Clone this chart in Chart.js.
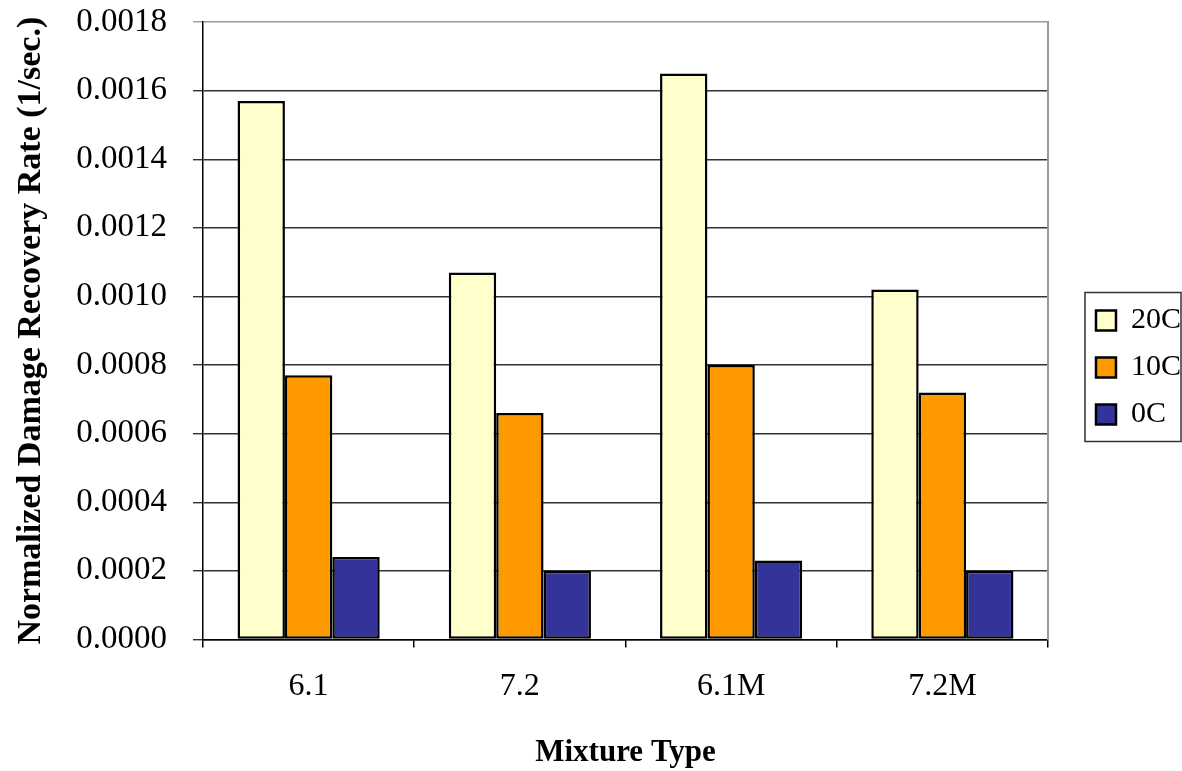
<!DOCTYPE html>
<html>
<head>
<meta charset="utf-8">
<script src="https://cdn.jsdelivr.net/npm/chart.js@4.4.1/dist/chart.umd.min.js"></script>
<style>
html, body { margin: 0; padding: 0; background: #ffffff; }
canvas { display: block; }
</style>
</head>
<body>
<canvas id="c" width="1182" height="771"></canvas>
<script>
const categories = ["6.1", "7.2", "6.1M", "7.2M"];
const seriesNames = ["20C", "10C", "0C"];
const values20C = [0.00157, 0.00107, 0.00165, 0.00102];
const values10C = [0.00077, 0.00066, 0.00080, 0.00072];
const values0C = [0.00024, 0.00020, 0.00023, 0.00020];
const yTicks = [0, 0.0002, 0.0004, 0.0006, 0.0008, 0.0010, 0.0012, 0.0014, 0.0016, 0.0018];
const xTitle = "Mixture Type";
const yTitle = "Normalized Damage Recovery Rate (1/sec.)";

const FONT = "'Liberation Serif', 'Times New Roman', serif";
const LEGEND_SHIFT_X = 9;
const LEGEND_SHIFT_Y = -18;

const legendPlacer = {
  id: 'legendPlacer',
  afterLayout(chart) {
    const lg = chart.legend;
    if (!lg) return;
    lg.left += LEGEND_SHIFT_X; lg.right += LEGEND_SHIFT_X;
    lg.top += LEGEND_SHIFT_Y; lg.bottom += LEGEND_SHIFT_Y;
  },
  afterDraw(chart) {
    const lg = chart.legend;
    if (!lg || !lg.columnSizes) return;
    const pad = lg.options.labels.padding;
    const colH = lg.columnSizes[0].height;
    const y0 = (lg.top + pad + lg.bottom - colH) / 2;
    const boxX = lg.left + pad;
    const ctx = chart.ctx;
    ctx.save();
    ctx.strokeStyle = '#333333';
    ctx.lineWidth = 1.5;
    ctx.strokeRect(boxX - 11, y0 - 13, chart.width - (boxX - 11) - 1, colH + 8);
    ctx.restore();
  }
};

new Chart(document.getElementById('c'), {
  type: 'bar',
  data: {
    labels: categories,
    datasets: [
      { label: seriesNames[0], data: values20C, backgroundColor: '#FFFFCC', borderColor: '#000000', borderWidth: 2.5, borderSkipped: false },
      { label: seriesNames[1], data: values10C, backgroundColor: '#FF9900', borderColor: '#000000', borderWidth: 2.5, borderSkipped: false },
      { label: seriesNames[2], data: values0C, backgroundColor: '#333399', borderColor: '#000000', borderWidth: 2.5, borderSkipped: false }
    ]
  },
  options: {
    responsive: false,
    animation: false,
    devicePixelRatio: 1,
    layout: { padding: { top: 0, left: 0, right: 0, bottom: 0 } },
    datasets: { bar: { categoryPercentage: 0.673, barPercentage: 1.0 } },
    plugins: {
      tooltip: { enabled: false },
      legend: {
        position: 'right',
        align: 'center',
        labels: {
          boxWidth: 20, boxHeight: 20, padding: 17,
          color: '#000000',
          font: { family: FONT, size: 30 }
        }
      }
    },
    scales: {
      x: {
        grid: { display: true, drawOnChartArea: false, drawTicks: true, tickLength: 8, color: '#000000', lineWidth: 1.5, offset: true },
        border: { display: true, color: '#000000', width: 1.5 },
        ticks: { color: '#000000', font: { family: FONT, size: 32 }, padding: 20 },
        title: { display: true, text: xTitle, color: '#000000', font: { family: FONT, size: 31, weight: 'bold' }, padding: { top: 9, bottom: -1 } }
      },
      y: {
        min: 0, max: 0.0018,
        afterBuildTicks(scale) { scale.ticks = yTicks.map(v => ({ value: v })); },
        afterFit(scale) { scale.width = 203; scale.paddingTop = 22; },
        grid: {
          display: true, drawOnChartArea: true, drawTicks: true, tickLength: 10,
          color: (c) => (c.index === yTicks.length - 1 ? '#9a9a9a' : '#333333'),
          lineWidth: 1.4
        },
        border: { display: true, color: '#000000', width: 1.5 },
        ticks: { color: '#000000', font: { family: FONT, size: 33 }, padding: 26, callback: (v) => Number(v).toFixed(4) },
        title: { display: true, text: yTitle, color: '#000000', font: { family: FONT, size: 34, weight: 'bold' }, padding: { top: 11, bottom: 31 } }
      },
      yRight: {
        position: 'right',
        display: true,
        grid: { display: false, drawTicks: false },
        border: { display: true, color: '#9a9a9a', width: 2 },
        ticks: { display: false },
        afterFit(scale) { scale.width = 22; }
      }
    }
  },
  plugins: [legendPlacer]
});
</script>
</body>
</html>
